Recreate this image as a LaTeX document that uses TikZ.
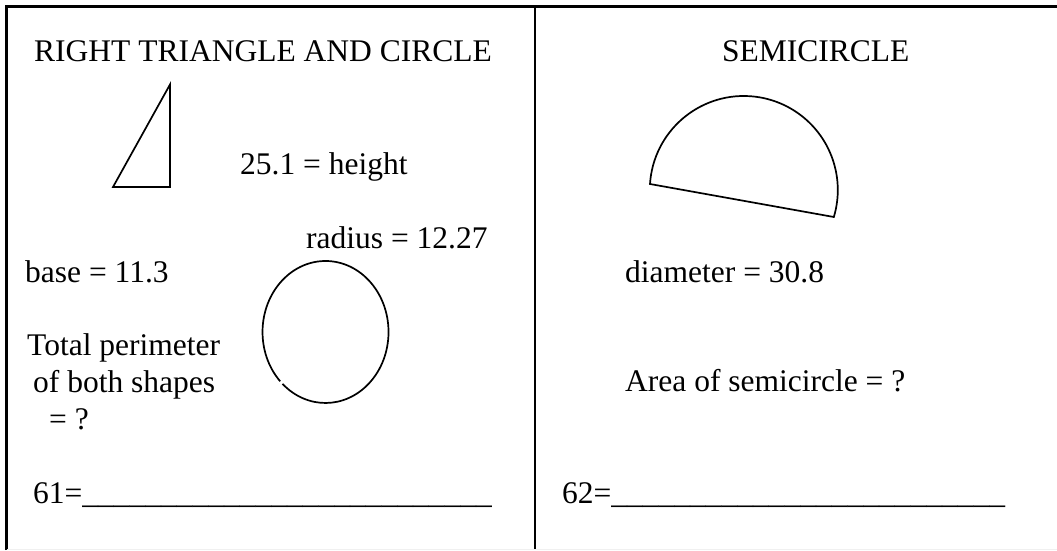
\documentclass[tikz,border=0pt]{standalone}
\usepackage{fontspec}
\setmainfont{Liberation Serif}
\tikzset{
  txt/.style={anchor=base west, inner sep=0pt, font=\fontsize{31.5}{36}\selectfont},
  frame/.style={line width=2.4pt, black},
  outline/.style={line width=1.7pt, black, line join=miter},
}
\begin{document}
\begin{tikzpicture}[x=1pt,y=-1pt]
\useasboundingbox (0,0) rectangle (1057,550);
% frame
\draw[frame] (6.5,550) -- (6.5,6.5) -- (1057,6.5);
\draw[frame] (535,6.5) -- (535,550);
\draw[gray!12, line width=1pt] (6.5,549) -- (1057,549);

% left panel
\node[txt] (t1) at (34,61.5) {RIGHT TRIANGLE AND CIRCLE};
\draw[outline] (170,84.5) -- (170,187) -- (113,187) -- cycle;
\node[txt] (h) at (240,174) {25.1 = height};
\node[txt] (r) at (306,248) {radius = 12.27};
\node[txt] (b) at (25,282) {base = 11.3};
\draw[outline] (280.2,381.3) arc[start angle=136, end angle=493, x radius=63, y radius=71];
\node[txt] (p1) at (27,355) {Total perimeter};
\node[txt] (p2) at (33,392) {of both shapes};
\node[txt] (p3) at (49,429) {= ?};
\node[txt] (a61) at (33,503) {61=\_\_\_\_\_\_\_\_\_\_\_\_\_\_\_\_\_\_\_\_\_\_\_\_\_\_};

% right panel
\node[txt] (t2) at (722,61) {SEMICIRCLE};
\draw[outline] (650,184) arc[start angle=183.65, end angle=376.7, radius=94] -- cycle;
\node[txt] (d) at (625,282) {diameter = 30.8};
\node[txt] (ar) at (625,391) {Area of semicircle = ?};
\node[txt] (a62) at (562,503) {62=\_\_\_\_\_\_\_\_\_\_\_\_\_\_\_\_\_\_\_\_\_\_\_\_\_};
\end{tikzpicture}
\end{document}
